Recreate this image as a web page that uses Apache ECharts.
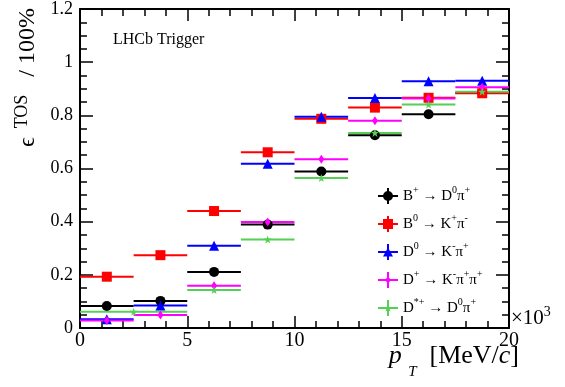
<!DOCTYPE html>
<html>
<head>
<meta charset="utf-8">
<script src="https://cdn.jsdelivr.net/npm/echarts@6/dist/echarts.min.js"></script>
<style>
  html, body { margin: 0; padding: 0; background: #fff; }
  #chart { width: 565px; height: 387px; }
</style>
</head>
<body>
<div id="chart"></div>
<script>
// pT bins (x10^3 MeV/c)
const binLo = [0, 2.5, 5, 7.5, 10, 12.5, 15, 17.5];
const binHi = [2.5, 5, 7.5, 10, 12.5, 15, 17.5, 20];
// D*+ uses a wider first bin
const binLoDst = [0, 5, 7.5, 10, 12.5, 15, 17.5];
const binHiDst = [5, 7.5, 10, 12.5, 15, 17.5, 20];

const effBp  = [0.083, 0.102, 0.211, 0.389, 0.589, 0.725, 0.804, 0.885];
const effB0  = [0.193, 0.274, 0.440, 0.661, 0.787, 0.829, 0.866, 0.883];
const effD0  = [0.033, 0.085, 0.309, 0.618, 0.795, 0.865, 0.928, 0.930];
const effDp  = [0.028, 0.049, 0.159, 0.399, 0.635, 0.780, 0.863, 0.906];
const effDst = [0.061, 0.143, 0.333, 0.564, 0.734, 0.841, 0.889];

const xTicks = [0, 5, 10, 15, 20];
const yTicks = [0, 0.2, 0.4, 0.6, 0.8, 1, 1.2];

const serif = "Liberation Serif";
const starPath = "path://M0,-10L2.35,-3.24L9.51,-3.09L3.8,1.24L5.88,8.09L0,4L-5.88,8.09L-3.8,1.24L-9.51,-3.09L-2.35,-3.24Z";

const decays = [
  { name: "Bp",  label: "{n|B}{s|+}{n| → D}{s|0}{n|π}{s|+}",         color: "#000000", lo: binLo, hi: binHi, eff: effBp,
    symbol: "circle", size: 10, icon: "M10,3a5,5 0 1,1 0,10a5,5 0 1,1 0,-10z" },
  { name: "B0",  label: "{n|B}{s|0}{n| → K}{s|+}{n|π}{s|-}",         color: "#ff0000", lo: binLo, hi: binHi, eff: effB0,
    symbol: "rect", size: 10, icon: "M5,3h10v10h-10z" },
  { name: "D0",  label: "{n|D}{s|0}{n| → K}{s|-}{n|π}{s|+}",         color: "#0000ff", lo: binLo, hi: binHi, eff: effD0,
    symbol: "triangle", size: 10, icon: "M10,3.5L15,12.5h-10z" },
  { name: "Dp",  label: "{n|D}{s|+}{n| → K}{s|-}{n|π}{s|+}{n|π}{s|+}", color: "#ff00ff", lo: binLo, hi: binHi, eff: effDp,
    symbol: "diamond", size: [6, 9], icon: "M10,4.5l3,3.5l-3,3.5l-3,-3.5z" },
  { name: "Dst", label: "{n|D}{s|*+}{n| → D}{s|0}{n|π}{s|+}",        color: "#55d055", lo: binLoDst, hi: binHiDst, eff: effDst,
    symbol: starPath, size: 8, icon: "M10,4.5L11.1,7.1L13.8,7.2L11.6,8.8L12.4,11.4L10,9.9L7.6,11.4L8.4,8.8L6.2,7.2L8.9,7.1Z" }
];

const series = [];
decays.forEach(d => {
  series.push({
    name: d.name,
    type: "custom",
    data: d.eff.map((v, i) => [d.lo[i], d.hi[i], v]),
    encode: { x: [0, 1], y: 2 },
    renderItem: (params, api) => {
      const a = api.coord([api.value(0), api.value(2)]);
      const b = api.coord([api.value(1), api.value(2)]);
      return {
        type: "line",
        shape: { x1: a[0], y1: a[1], x2: b[0], y2: b[1] },
        style: { stroke: d.color, lineWidth: 2 }
      };
    },
    silent: true
  });
  series.push({
    name: d.name,
    type: "scatter",
    data: d.eff.map((v, i) => [(d.lo[i] + d.hi[i]) / 2, v]),
    symbol: d.symbol,
    symbolSize: d.size,
    itemStyle: { color: d.color, opacity: 1 },
    silent: true
  });
});

const legendIcon = body => "path://M0,7h20v2h-20z M9,0h2v16h-2z " + body;
const labelByName = {};
decays.forEach(d => { labelByName[d.name] = d.label; });

const axisFont = { fontFamily: serif, color: "#000" };
const frameLine = { onZero: false, lineStyle: { color: "#000", width: 2 } };
const tickStyle = { color: "#000", width: 1.5 };

const chart = echarts.init(document.getElementById("chart"));
chart.setOption({
  animation: false,
  grid: { left: 80, right: 56, top: 8, bottom: 59 },
  xAxis: [
    {
      type: "value", min: 0, max: 20, interval: 5, position: "bottom",
      axisLine: frameLine,
      axisTick: { inside: true, length: 12, lineStyle: tickStyle },
      minorTick: { show: true, splitNumber: 5, length: 7, lineStyle: tickStyle },
      splitLine: { show: false },
      axisLabel: { ...axisFont, fontSize: 20, margin: 3,
        formatter: v => xTicks.includes(v) ? String(v) : "" }
    },
    {
      type: "value", min: 0, max: 20, interval: 5, position: "top",
      axisLine: frameLine,
      axisTick: { inside: true, length: 12, lineStyle: tickStyle },
      minorTick: { show: true, splitNumber: 5, length: 7, lineStyle: tickStyle },
      splitLine: { show: false },
      axisLabel: { show: false }
    }
  ],
  yAxis: [
    {
      type: "value", min: 0, max: 1.2, interval: 0.2, position: "left",
      axisLine: { show: true, ...frameLine },
      axisTick: { show: true, inside: true, length: 13, lineStyle: tickStyle },
      minorTick: { show: true, splitNumber: 4, length: 7, lineStyle: tickStyle },
      splitLine: { show: false },
      axisLabel: { ...axisFont, fontSize: 18, margin: 7,
        formatter: v => { const t = yTicks.find(k => Math.abs(k - v) < 1e-6); return t === undefined ? "" : String(t); } }
    },
    {
      type: "value", min: 0, max: 1.2, interval: 0.2, position: "right",
      axisLine: { show: true, ...frameLine },
      axisTick: { show: true, inside: true, length: 13, lineStyle: tickStyle },
      minorTick: { show: true, splitNumber: 4, length: 7, lineStyle: tickStyle },
      splitLine: { show: false },
      axisLabel: { show: false }
    }
  ],
  legend: {
    orient: "vertical",
    left: 373, top: 180,
    itemWidth: 20, itemHeight: 16,
    itemGap: 9,
    selectedMode: false,
    data: decays.map(d => ({ name: d.name, icon: legendIcon(d.icon), itemStyle: { color: d.color } })),
    formatter: name => labelByName[name],
    textStyle: {
      fontFamily: serif, color: "#000",
      rich: {
        n: { fontFamily: serif, fontSize: 15, lineHeight: 22, color: "#000" },
        s: { fontFamily: serif, fontSize: 10, lineHeight: 11, verticalAlign: "top", color: "#000" }
      }
    }
  },
  graphic: [
    {
      type: "text", x: 113, y: 40,
      style: { text: "LHCb Trigger", fontFamily: serif, fontSize: 16, fill: "#000", verticalAlign: "middle" }
    },
    {
      type: "text", x: 511, y: 318,
      style: {
        text: "{n|×10}{s|3}", verticalAlign: "middle",
        rich: {
          n: { fontFamily: serif, fontSize: 21, lineHeight: 26, fill: "#000" },
          s: { fontFamily: serif, fontSize: 14, lineHeight: 14, verticalAlign: "top", fill: "#000" }
        }
      }
    },
    {
      type: "text", x: 519, y: 356,
      style: {
        text: "{i|p }{t|T}{n|  [MeV/}{i|c}{n|]}", align: "right", verticalAlign: "middle",
        rich: {
          i: { fontFamily: serif, fontStyle: "italic", fontSize: 26, lineHeight: 48, fill: "#000" },
          t: { fontFamily: serif, fontStyle: "italic", fontSize: 15, lineHeight: 15, verticalAlign: "bottom", fill: "#000" },
          n: { fontFamily: serif, fontSize: 26, lineHeight: 48, fill: "#000" }
        }
      }
    },
    {
      type: "text", x: 28, y: 8, rotation: Math.PI / 2,
      style: {
        text: "{e|ϵ}{s|  TOS}{n|   / 100%}", align: "right", verticalAlign: "middle",
        rich: {
          e: { fontFamily: serif, fontSize: 24, lineHeight: 30, fill: "#000" },
          s: { fontFamily: serif, fontSize: 18, lineHeight: 15, verticalAlign: "top", fill: "#000" },
          n: { fontFamily: serif, fontSize: 24, lineHeight: 30, fill: "#000" }
        }
      }
    }
  ],
  series: series
});
</script>
</body>
</html>
